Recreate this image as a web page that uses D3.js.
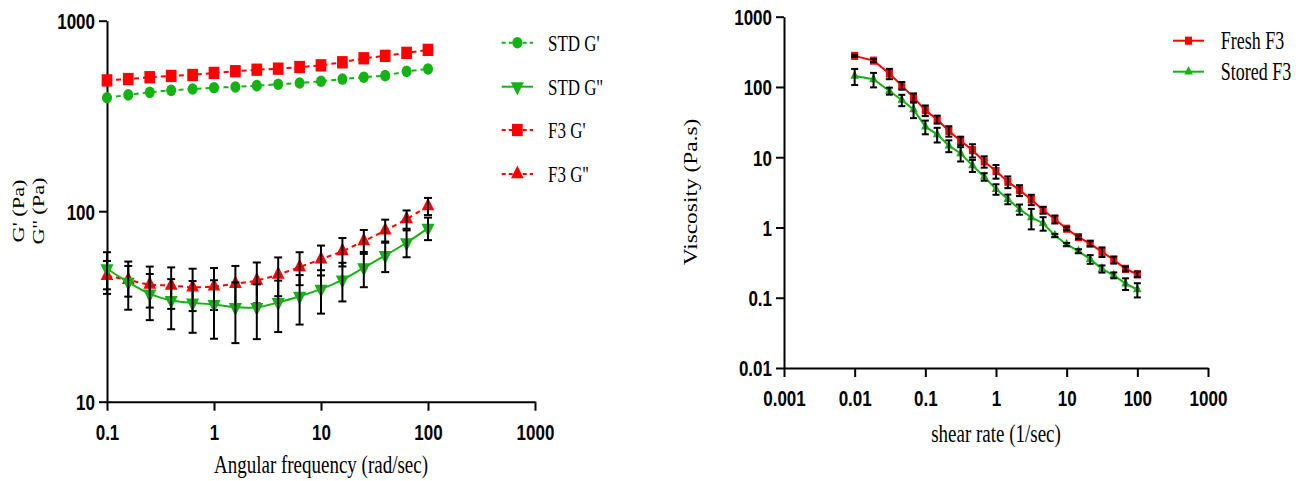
<!DOCTYPE html>
<html>
<head>
<meta charset="utf-8">
<script src="https://cdn.jsdelivr.net/npm/d3@7"></script>
<style>
  body { margin: 0; background: #fff; }
  svg { display: block; }
</style>
</head>
<body>
<svg width="1304" height="481"></svg>
<script>
// left panel: oscillatory sweep
const freq = [0.1, 0.158, 0.251, 0.398, 0.631, 1, 1.585, 2.512, 3.981, 6.31, 10, 15.85, 25.12, 39.81, 63.1, 100];
const stdGp = [394, 408, 421, 431, 438, 445, 449, 456, 464, 471, 481, 494, 505, 515, 542, 558];
const f3Gp = [486, 494, 505, 513, 519, 532, 543, 553, 560, 571, 583, 605, 635, 654, 678, 703];
const stdGpp = [49.9, 42.4, 36.8, 34, 33, 32.4, 31.3, 31.3, 33.2, 35.8, 39, 43.6, 50.5, 58.6, 68.3, 81.5];
const stdGppErr = [11, 12, 10, 10, 10, 11, 11, 10, 10, 10.4, 10, 10, 10.6, 10.7, 11, 11];
const f3Gpp = [45.8, 43.6, 41.2, 40.7, 39.9, 40.3, 41.6, 43.3, 46.5, 50.9, 56, 61.8, 69.7, 79.3, 90.9, 106.4];
const f3GppErr = [9, 8, 10, 10, 10, 10, 10, 10.5, 10.7, 10, 10, 10.5, 10, 11, 10, 11];
const leftXTicks = [0.1, 1, 10, 100, 1000];
const leftYTicks = [10, 100, 1000];

// right panel: flow curve
const shear = [0.01, 0.0185, 0.031, 0.0464, 0.0681, 0.1, 0.147, 0.215, 0.316, 0.464, 0.681, 1,
               1.47, 2.15, 3.16, 4.64, 6.81, 10, 14.7, 21.5, 31.6, 46.4, 68.1, 100];
const fresh = [277, 237, 155, 104.5, 71, 46.5, 34.6, 23.6, 17.2, 12.6, 8.7, 6.35,
               4.48, 3.4, 2.5, 1.77, 1.31, 0.96, 0.73, 0.59, 0.45, 0.346, 0.258, 0.216];
const freshErr = [10, 12, 26, 13, 10, 8, 4.5, 4, 2.4, 2.7, 1.6, 1.4,
                  0.85, 0.6, 0.42, 0.2, 0.17, 0.05, 0.04, 0.05, 0.07, 0.04, 0.02, 0.02];
const stored = [143.5, 128.6, 87.7, 65.3, 48, 27.2, 21.2, 14.6, 11.3, 7.66, 5.27, 3.52,
                2.54, 1.82, 1.39, 1.15, 0.77, 0.573, 0.46, 0.354, 0.258, 0.209, 0.159, 0.131];
const storedErr = [37, 30, 10, 12, 12, 6, 5, 2.8, 2.6, 1.5, 0.65, 0.6,
                   0.4, 0.3, 0.45, 0.25, 0.04, 0.03, 0.03, 0.05, 0.03, 0.02, 0.03, 0.03];
const rightXTicks = [0.001, 0.01, 0.1, 1, 10, 100, 1000];
const rightYTicks = [0.01, 0.1, 1, 10, 100, 1000];

const RED = '#ff0000', GREEN = '#13b313';
const SY = 1.3; // the source picture is stretched vertically
const svg = d3.select('svg');

const xL = d3.scaleLog().domain([0.1, 1000]).range([107, 535]);
const yL = d3.scaleLog().domain([10, 1000]).range([401.7, 20.7]);
const xR = d3.scaleLog().domain([0.001, 1000]).range([784, 1208]);
const yR = d3.scaleLog().domain([0.01, 1000]).range([368, 16.7]);

function fmt(v) { return d3.format('~g')(v); }

function drawAxes(x, y, xt, yt) {
    const gx = svg.append('g').attr('transform', `translate(0,${y.range()[0]})`)
        .call(d3.axisBottom(x).tickValues(xt).tickFormat(fmt).tickSize(9).tickSizeOuter(0));
    const gy = svg.append('g').attr('transform', `translate(${x.range()[0]},0)`)
        .call(d3.axisLeft(y).tickValues(yt).tickFormat(fmt).tickSize(8).tickSizeOuter(0));
    [gx, gy].forEach(g => {
        g.select('.domain').attr('stroke', '#000').attr('stroke-width', 2);
        g.selectAll('.tick line').attr('stroke', '#000').attr('stroke-width', 2);
        g.selectAll('text').attr('fill', '#000')
            .style('font-family', '"Liberation Sans", Arial, sans-serif')
            .style('font-weight', 'bold').style('font-size', '17px');
    });
    gx.selectAll('text').attr('y', null).attr('dy', null)
        .attr('transform', `translate(0,38) scale(1,${SY})`);
    gy.selectAll('text').attr('x', null).attr('dy', null).attr('text-anchor', 'end')
        .attr('transform', `translate(-12,7.9) scale(1,${SY})`);
}

function label(x, y, str, size, opts = {}) {
    const sy = opts.sy || SY;
    return svg.append('text')
        .attr('transform', `translate(${x},${y}) scale(1,${sy})` + (opts.rot ? ' rotate(-90)' : ''))
        .attr('text-anchor', opts.anchor || 'middle')
        .attr('dy', opts.dy || null)
        .style('font-family', '"Liberation Serif", "Times New Roman", serif')
        .style('font-size', size + 'px')
        .attr('fill', '#000')
        .text(str);
}

const symbols = {
    circle: d3.symbol().type(d3.symbolCircle),
    square: d3.symbol().type(d3.symbolSquare),
    tri: d3.symbol().type(d3.symbolTriangle)
};

function marker(g, px, py, shape, size, color, flip) {
    g.append('path')
        .attr('d', symbols[shape].size(size)())
        .attr('transform', `translate(${px},${py}) scale(1,1.15)` + (flip ? ' rotate(180)' : ''))
        .attr('fill', color);
}

function series(x, y, xs, ys, o) {
    const g = svg.append('g');
    const line = d3.line().x((d, i) => x(xs[i])).y(d => y(d)).curve(o.curve || d3.curveLinear);
    g.append('path').datum(ys).attr('d', line)
        .attr('fill', 'none').attr('stroke', o.color).attr('stroke-width', 2)
        .attr('stroke-dasharray', o.dash ? '5,4' : null);
    ys.forEach((v, i) => marker(g, x(xs[i]), y(v), o.shape, o.size, o.color, o.flip));
    if (o.err) {
        const cap = o.cap;
        o.err.forEach((e, i) => {
            if (!e) return;
            const px = x(xs[i]);
            const lo = y(Math.max(ys[i] - e, 1e-4)), hi = y(ys[i] + e);
            g.append('line').attr('x1', px).attr('x2', px).attr('y1', lo).attr('y2', hi)
                .attr('stroke', '#000').attr('stroke-width', 2);
            [lo, hi].forEach(yy => g.append('line')
                .attr('x1', px - cap).attr('x2', px + cap).attr('y1', yy).attr('y2', yy)
                .attr('stroke', '#000').attr('stroke-width', 2));
        });
    }
}

function legendItem(x0, x1, y, text, o, tx, size) {
    const g = svg.append('g');
    g.append('line').attr('x1', x0).attr('x2', x1).attr('y1', y).attr('y2', y)
        .attr('stroke', o.color).attr('stroke-width', 2)
        .attr('stroke-dasharray', o.dash ? '4,3' : null);
    marker(g, (x0 + x1) / 2, y, o.shape, o.size, o.color, o.flip);
    label(tx, y, text, size, {anchor: 'start', dy: '0.35em', sy: 1.35});
}

// ---- left panel
drawAxes(xL, yL, leftXTicks, leftYTicks);
const sStdGp = {color: GREEN, shape: 'circle', size: 80, dash: true};
const sStdGpp = {color: GREEN, shape: 'tri', size: 75, flip: true, curve: d3.curveCatmullRom};
const sF3Gp = {color: RED, shape: 'square', size: 115, dash: true};
const sF3Gpp = {color: RED, shape: 'tri', size: 70, dash: true, curve: d3.curveCatmullRom};
series(xL, yL, freq, f3Gp, sF3Gp);
series(xL, yL, freq, stdGp, sStdGp);
series(xL, yL, freq, f3Gpp, Object.assign({err: f3GppErr, cap: 4}, sF3Gpp));
series(xL, yL, freq, stdGpp, Object.assign({err: stdGppErr, cap: 4}, sStdGpp));

legendItem(501.7, 533, 42.7, "STD G'", sStdGp, 548, 17);
legendItem(501.7, 533, 86.7, "STD G''", sStdGpp, 548, 17);
legendItem(501.7, 533, 130, "F3 G'", sF3Gp, 548, 17);
legendItem(501.7, 533, 174, "F3 G''", sF3Gpp, 548, 17);

label(18, 211, "G' (Pa)", 16, {rot: true, dy: '0.35em', sy: 1.4});
label(38, 211, "G'' (Pa)", 16, {rot: true, dy: '0.35em', sy: 1.4});
label(321, 473, 'Angular frequency (rad/sec)', 19);

// ---- right panel
drawAxes(xR, yR, rightXTicks, rightYTicks);
const sFresh = {color: RED, shape: 'square', size: 50};
const sStored = {color: GREEN, shape: 'tri', size: 32};
series(xR, yR, shear, fresh, Object.assign({err: freshErr, cap: 3.5}, sFresh));
series(xR, yR, shear, stored, Object.assign({err: storedErr, cap: 3.5}, sStored));

legendItem(1173, 1204, 40.7, 'Fresh F3', sFresh, 1220.7, 18);
legendItem(1173, 1204, 71.7, 'Stored F3', sStored, 1220.7, 18);

label(691, 192, 'Viscosity (Pa.s)', 18, {rot: true, dy: '0.35em'});
label(996, 442, 'shear rate (1/sec)', 19);
</script>
</body>
</html>
